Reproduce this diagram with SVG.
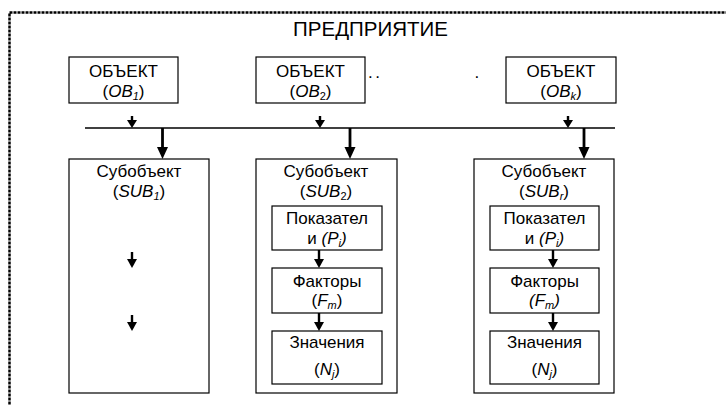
<svg xmlns="http://www.w3.org/2000/svg" width="726" height="405" viewBox="0 0 726 405">
<style>
  text { font-family: "Liberation Sans", Arial, sans-serif; fill: #000; }
  .t { font-size: 17px; text-anchor: middle; }
  .title { font-size: 20.5px; text-anchor: middle; }
  .box { fill: #fff; stroke: #000; stroke-width: 1.2; }
  .i { font-style: italic; }
  .sub { font-size: 11px; font-style: italic; }
  .thin { stroke: #000; stroke-width: 1.5; fill: none; }
  .shaft { stroke: #000; stroke-width: 2.4; fill: none; }
  .thick { stroke: #000; stroke-width: 2.8; fill: none; }
  .head { fill: #000; }
</style>
<rect x="9.5" y="12.5" width="730" height="400" fill="none" stroke="#000" stroke-width="2.5" stroke-dasharray="3 1"/>
<text class="title" x="370.5" y="36">ПРЕДПРИЯТИЕ</text>

<g id="ob1">
  <rect class="box" x="69" y="57" width="109" height="46"/>
  <text class="t" x="123.5" y="77">ОБЪЕКТ<tspan x="123.5" y="96.5">(<tspan class="i">OB</tspan><tspan class="sub" dy="3">1</tspan><tspan dy="-3">)</tspan></tspan></text>
</g>
<g id="ob2">
  <rect class="box" x="256" y="57" width="109" height="46"/>
  <text class="t" x="310.5" y="77">ОБЪЕКТ<tspan x="310.5" y="96.5">(<tspan class="i">OB</tspan><tspan font-size="11px" dy="3">2</tspan><tspan dy="-3">)</tspan></tspan></text>
</g>
<text x="368" y="78" font-size="17px" letter-spacing="2.5">..</text>
<text x="474.5" y="78" font-size="17px">.</text>
<g id="obk">
  <rect class="box" x="506" y="57" width="110" height="46"/>
  <text class="t" x="561" y="77">ОБЪЕКТ<tspan x="561" y="96.5">(<tspan class="i">OB</tspan><tspan class="sub" dy="3">k</tspan><tspan dy="-3">)</tspan></tspan></text>
</g>

<g id="sub1">
  <rect class="box" x="69" y="159" width="140" height="234"/>
  <text class="t" x="139" y="177">Субобъект<tspan x="139" y="196.5">(<tspan class="i">SUB</tspan><tspan class="sub" dy="3">1</tspan><tspan dy="-3">)</tspan></tspan></text>
</g>
<g id="sub2">
  <rect class="box" x="256" y="159" width="141" height="234"/>
  <text class="t" x="326" y="177">Субобъект<tspan x="326" y="196.5">(<tspan class="i">SUB</tspan><tspan font-size="11px" dy="3">2</tspan><tspan dy="-3">)</tspan></tspan></text>
</g>
<g id="p2">
  <rect class="box" x="272" y="206" width="110" height="44"/>
  <text class="t" x="327" y="224">Показател<tspan x="327" y="243.5">и <tspan class="i">(P</tspan><tspan class="sub" dy="3">i</tspan><tspan class="i" dy="-3">)</tspan></tspan></text>
</g>
<g id="f2">
  <rect class="box" x="272" y="268" width="110" height="45"/>
  <text class="t" x="327" y="286.5">Факторы<tspan x="327" y="306">(<tspan class="i">F</tspan><tspan class="sub" dy="3">m</tspan><tspan dy="-3">)</tspan></tspan></text>
</g>
<g id="n2">
  <rect class="box" x="272" y="331" width="110" height="53"/>
  <text class="t" x="327" y="348">Значения<tspan x="327" y="375">(<tspan class="i">N</tspan><tspan class="sub" dy="3">j</tspan><tspan dy="-3">)</tspan></tspan></text>
</g>
<g id="subr">
  <rect class="box" x="474" y="159" width="140" height="234"/>
  <text class="t" x="544" y="177">Субобъект<tspan x="544" y="196.5">(<tspan class="i">SUB</tspan><tspan class="sub" dy="3">r</tspan><tspan dy="-3">)</tspan></tspan></text>
</g>
<g id="pr">
  <rect class="box" x="490" y="206" width="109" height="44"/>
  <text class="t" x="544.5" y="224">Показател<tspan x="544.5" y="243.5">и <tspan class="i">(P</tspan><tspan class="sub" dy="3">i</tspan><tspan class="i" dy="-3">)</tspan></tspan></text>
</g>
<g id="fr">
  <rect class="box" x="490" y="268" width="109" height="45"/>
  <text class="t" x="544.5" y="286.5">Факторы<tspan x="544.5" y="306"><tspan class="i">(F</tspan><tspan class="sub" dy="3">m</tspan><tspan class="i" dy="-3">)</tspan></tspan></text>
</g>
<g id="nr">
  <rect class="box" x="490" y="331" width="109" height="53"/>
  <text class="t" x="544.5" y="348">Значения<tspan x="544.5" y="375">(<tspan class="i">N</tspan><tspan class="sub" dy="3">j</tspan><tspan dy="-3">)</tspan></tspan></text>
</g>

<g id="connectors">
  <line class="thin" x1="85" y1="128" x2="615" y2="128"/>
  <line class="shaft" x1="132" y1="116" x2="132" y2="121"/>
  <polygon class="head" points="127,120 137,120 132,128"/>
  <line class="shaft" x1="320" y1="116" x2="320" y2="121"/>
  <polygon class="head" points="315,120 325,120 320,128"/>
  <line class="shaft" x1="568" y1="116" x2="568" y2="121"/>
  <polygon class="head" points="563,120 573,120 568,128"/>
  <line class="thick" x1="162.5" y1="128" x2="162.5" y2="149"/>
  <polygon class="head" points="157,147 168,147 162.5,159"/>
  <line class="thick" x1="350" y1="128" x2="350" y2="149"/>
  <polygon class="head" points="344.5,147 355.5,147 350,159"/>
  <line class="thick" x1="584" y1="128" x2="584" y2="149"/>
  <polygon class="head" points="578.5,147 589.5,147 584,159"/>
  <line class="shaft" x1="132" y1="252" x2="132" y2="261"/>
  <polygon class="head" points="127,259 137,259 132,268"/>
  <line class="shaft" x1="132" y1="315" x2="132" y2="324"/>
  <polygon class="head" points="127,322 137,322 132,331"/>
  <line class="shaft" x1="319" y1="250" x2="319" y2="261"/>
  <polygon class="head" points="314,259 324,259 319,268"/>
  <line class="shaft" x1="319" y1="313" x2="319" y2="324"/>
  <polygon class="head" points="314,322 324,322 319,331"/>
  <line class="shaft" x1="553" y1="250" x2="553" y2="261"/>
  <polygon class="head" points="548,259 558,259 553,268"/>
  <line class="shaft" x1="553" y1="313" x2="553" y2="324"/>
  <polygon class="head" points="548,322 558,322 553,331"/>
</g>
</svg>
